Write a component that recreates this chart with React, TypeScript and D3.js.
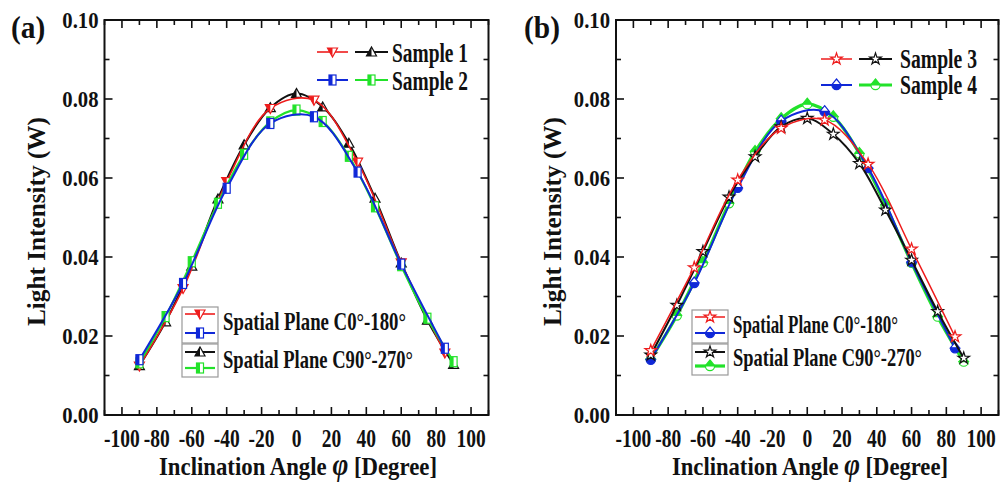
import * as React from "react";
import * as d3 from "d3";

const W = 1004;
const H = 483;
const FONT = "'Liberation Serif', 'Times New Roman', serif";

// angles measured in the two spatial planes
const anglesC0 = [-90, -65, -40, -15, 10, 35, 60, 85];
const anglesC90 = [-90, -75, -60, -45, -30, -15, 0, 15, 30, 45, 60, 75, 90];

const xTickLabels = [-100, -80, -60, -40, -20, 0, 20, 40, 60, 80, 100];
const yTickLabels = [0, 0.02, 0.04, 0.06, 0.08, 0.1];

// panel (a)
const sample1C0 = [0.0124, 0.032, 0.0591, 0.0776, 0.0797, 0.064, 0.0385, 0.0157];
const sample2C0 = [0.014, 0.0333, 0.0574, 0.0738, 0.0755, 0.0615, 0.0382, 0.0169];
const sample1C90 = [0.0125, 0.0236, 0.0377, 0.0547, 0.0684, 0.0778, 0.0814, 0.078, 0.0688, 0.0549, 0.0385, 0.024, 0.0128];
const sample2C90 = [0.0132, 0.0249, 0.0388, 0.0536, 0.066, 0.0742, 0.0772, 0.0743, 0.0655, 0.0527, 0.0378, 0.0245, 0.0135];

// panel (b)
const sample3C0 = [0.0163, 0.0373, 0.0595, 0.0726, 0.0747, 0.0635, 0.042, 0.0198];
const sample4C0 = [0.014, 0.0334, 0.0575, 0.0744, 0.0768, 0.0625, 0.0387, 0.0169];
const sample3C90 = [0.0152, 0.0278, 0.0414, 0.0552, 0.0654, 0.073, 0.0751, 0.0711, 0.0637, 0.0519, 0.0392, 0.0262, 0.0144];
const sample4C90 = [0.0142, 0.0252, 0.0386, 0.0536, 0.0667, 0.075, 0.0787, 0.0755, 0.0662, 0.0532, 0.0385, 0.0249, 0.0135];

const RED = "#ee1c1c";
const BLUE = "#1028d8";
const GREEN = "#22e22a";
const BLACK = "#111";

const starPath = d3.symbol().type(d3.symbolStar).size(42)();

function Marker({ kind, color, cx, cy }) {
  const t = `translate(${cx},${cy})`;
  const s = 5;
  if (kind === "triDown") {
    return (
      <g transform={t}>
        <path d={`M${-s},${-s * 0.8}L${s},${-s * 0.8}L0,${s}Z`} fill="#fff" stroke={color} strokeWidth={1.2} />
        <path d={`M${-s},${-s * 0.8}L0,${-s * 0.8}L0,${s}Z`} fill={color} />
      </g>
    );
  }
  if (kind === "triUp") {
    return (
      <g transform={t}>
        <path d={`M${-s},${s * 0.8}L${s},${s * 0.8}L0,${-s}Z`} fill="#fff" stroke={color} strokeWidth={1.2} />
        <path d={`M${-s},${s * 0.8}L0,${s * 0.8}L0,${-s}Z`} fill={color} />
      </g>
    );
  }
  if (kind === "square") {
    return (
      <g transform={t}>
        <rect x={-3.5} y={-5} width={7} height={10} fill="#fff" stroke={color} strokeWidth={1.2} />
        <rect x={-3.5} y={-5} width={3.5} height={10} fill={color} />
      </g>
    );
  }
  if (kind === "star") {
    return (
      <g transform={t}>
        <path d={starPath} fill="#fff" stroke={color} strokeWidth={1.2} />
      </g>
    );
  }
  // house shaped marker: triangle top, half disc bottom
  const topFilled = kind === "houseTop";
  return (
    <g transform={t}>
      <path d="M0,-6L4.6,-0.3L-4.6,-0.3Z" fill={topFilled ? color : "#fff"} stroke={color} strokeWidth={1.2} />
      <path d="M-4.6,0A4.6,4.6 0 0 0 4.6,0Z" fill={topFilled ? "#fff" : color} stroke={color} strokeWidth={1.2} />
    </g>
  );
}

function STxt({ x, y, size, sx = 1, anchor = "start", children, len }) {
  return (
    <text
      transform={`translate(${x},${y}) scale(${sx},1)`}
      fontFamily={FONT}
      fontWeight="bold"
      fontSize={size}
      textAnchor={anchor}
      textLength={len}
      lengthAdjust={len ? "spacingAndGlyphs" : undefined}
      fill="#111"
    >
      {children}
    </text>
  );
}

const panels = [
  {
    tag: "(a)",
    tagX: 11,
    left: 104.5,
    right: 488.5,
    series: [
      { angles: anglesC90, values: sample1C90, color: BLACK, width: 2, marker: "triUp" },
      { angles: anglesC0, values: sample1C0, color: RED, width: 1.6, marker: "triDown" },
      { angles: anglesC90, values: sample2C90, color: GREEN, width: 2.2, marker: "square" },
      { angles: anglesC0, values: sample2C0, color: BLUE, width: 2, marker: "square" },
    ],
    names: ["Sample 1", "Sample 2"],
    topLegend: { x1: 317, y1: 52, y2: 80, textX: 392, textW: 76, base1: 62, base2: 90 },
    box: { x: 182, y1: 307, y2: 343, y3: 377, textX: 223, w1: 183, w2: 190 },
    titleX: 159,
    titleW: 278,
    yLabelX: 45,
  },
  {
    tag: "(b)",
    tagX: 524,
    left: 616,
    right: 998.5,
    series: [
      { angles: anglesC90, values: sample4C90, color: GREEN, width: 3.2, marker: "houseTop" },
      { angles: anglesC0, values: sample4C0, color: BLUE, width: 2, marker: "houseBottom" },
      { angles: anglesC90, values: sample3C90, color: BLACK, width: 2, marker: "star" },
      { angles: anglesC0, values: sample3C0, color: RED, width: 1.5, marker: "star" },
    ],
    names: ["Sample 3", "Sample 4"],
    topLegend: { x1: 821, y1: 59, y2: 85, textX: 900, textW: 77, base1: 68, base2: 94 },
    box: { x: 692, y1: 310, y2: 343, y3: 375, textX: 733, w1: 165, w2: 189 },
    titleX: 672,
    titleW: 276,
    yLabelX: 561,
  },
];

function Panel({ p }) {
  const x = d3.scaleLinear().domain([-110, 110]).range([p.left, p.right]);
  const y = d3.scaleLinear().domain([0, 0.1]).range([415, 20]);

  const path = (s) =>
    d3
      .line<[number, number]>()
      .x((d) => x(d[0]))
      .y((d) => y(d[1]))
      .curve(d3.curveCatmullRom.alpha(0.5))(s.angles.map((a, i) => [a, s.values[i]]));

  const xMinor = x.ticks(22);
  const yMinor = y.ticks(10);
  const [x0, x1] = x.range();
  const [y0, y1] = y.range();
  const isMajorX = (v) => xTickLabels.includes(v);
  const isMajorY = (v) => yTickLabels.some((t) => Math.abs(t - v) < 1e-9);

  const [sBlack, sRed, sGreen, sBlue] =
    p.tag === "(a)" ? p.series : [p.series[2], p.series[3], p.series[0], p.series[1]];
  const L = p.topLegend;
  const B = p.box;

  const legendRow = (sa, sb, yy, xs) => (
    <g>
      <line x1={xs} x2={xs + 31} y1={yy} y2={yy} stroke={sa.color} strokeWidth={sa.width} />
      <Marker kind={sa.marker} color={sa.color} cx={xs + 15.5} cy={yy} />
      <line x1={xs + 38} x2={xs + 71} y1={yy} y2={yy} stroke={sb.color} strokeWidth={sb.width} />
      <Marker kind={sb.marker} color={sb.color} cx={xs + 54.5} cy={yy} />
    </g>
  );

  const boxRow = (s, yy) => (
    <g>
      <line x1={B.x + 3} x2={B.x + 33} y1={yy} y2={yy} stroke={s.color} strokeWidth={s.width} />
      <Marker kind={s.marker} color={s.color} cx={B.x + 18} cy={yy} />
    </g>
  );

  return (
    <g>
      {p.series.map((s, k) => (
        <g key={k}>
          <path d={path(s)} fill="none" stroke={s.color} strokeWidth={s.width} />
          {s.angles.map((a, i) => (
            <Marker key={i} kind={s.marker} color={s.color} cx={x(a)} cy={y(s.values[i])} />
          ))}
        </g>
      ))}

      <rect x={x0} y={y1} width={x1 - x0} height={y0 - y1} fill="none" stroke="#111" strokeWidth={2} />
      {xMinor.map((v) => {
        const len = isMajorX(v) ? 8 : 5;
        return (
          <g key={"x" + v}>
            <line x1={x(v)} x2={x(v)} y1={y0} y2={y0 - len} stroke="#111" strokeWidth={1.6} />
            <line x1={x(v)} x2={x(v)} y1={y1} y2={y1 + len} stroke="#111" strokeWidth={1.6} />
          </g>
        );
      })}
      {yMinor.map((v) => {
        const len = isMajorY(v) ? 8 : 5;
        return (
          <g key={"y" + v}>
            <line x1={x0} x2={x0 + len} y1={y(v)} y2={y(v)} stroke="#111" strokeWidth={1.6} />
            <line x1={x1} x2={x1 - len} y1={y(v)} y2={y(v)} stroke="#111" strokeWidth={1.6} />
          </g>
        );
      })}
      {xTickLabels.map((v) => (
        <STxt key={"xl" + v} x={x(v)} y={447} size={26} sx={0.75} anchor="middle">
          {String(v)}
        </STxt>
      ))}
      {yTickLabels.map((v) => (
        <STxt key={"yl" + v} x={x0 - 6} y={y(v) + 8} size={23} sx={0.9} anchor="end">
          {d3.format(".2f")(v)}
        </STxt>
      ))}

      <STxt x={p.tagX} y={38} size={31} sx={0.95}>
        {p.tag}
      </STxt>

      <text
        x={p.titleX}
        y={475}
        fontFamily={FONT}
        fontWeight="bold"
        fontSize={26}
        textLength={p.titleW}
        lengthAdjust="spacingAndGlyphs"
        fill="#111"
      >
        Inclination Angle{" "}
        <tspan fontStyle="italic" fontSize={31}>
          φ
        </tspan>{" "}
        [Degree]
      </text>
      <text
        transform={`translate(${p.yLabelX},${(y0 + y1) / 2 + 4}) rotate(-90)`}
        fontFamily={FONT}
        fontWeight="bold"
        fontSize={26}
        textAnchor="middle"
        textLength={209}
        lengthAdjust="spacingAndGlyphs"
        fill="#111"
      >
        Light Intensity (W)
      </text>

      {legendRow(sRed, sBlack, L.y1, L.x1)}
      {legendRow(sBlue, sGreen, L.y2, L.x1)}
      <STxt x={L.textX} y={L.base1} size={27} len={L.textW}>
        {p.names[0]}
      </STxt>
      <STxt x={L.textX} y={L.base2} size={27} len={L.textW}>
        {p.names[1]}
      </STxt>

      <rect x={B.x} y={B.y1} width={36} height={B.y2 - B.y1} fill="#fff" stroke="#999" strokeWidth={1.2} />
      <rect x={B.x} y={B.y2 + 1} width={36} height={B.y3 - B.y2 - 1} fill="#fff" stroke="#999" strokeWidth={1.2} />
      {boxRow(sRed, B.y1 + 7)}
      {boxRow(sBlue, B.y2 - 10)}
      {boxRow(sBlack, B.y2 + 9)}
      {boxRow(sGreen, B.y3 - 9)}
      <STxt x={B.textX} y={B.y1 + 23} size={25} len={B.w1}>
        Spatial Plane C0°-180°
      </STxt>
      <STxt x={B.textX} y={B.y3 - 9} size={25} len={B.w2}>
        Spatial Plane C90°-270°
      </STxt>
    </g>
  );
}

export default function App() {
  return (
    <svg
      width={W}
      height={H}
      viewBox={`0 0 ${W} ${H}`}
      style={{ position: "absolute", left: 0, top: 0, background: "#fff" }}
    >
      <rect width={W} height={H} fill="#fff" />
      {panels.map((p) => (
        <Panel key={p.tag} p={p} />
      ))}
    </svg>
  );
}
